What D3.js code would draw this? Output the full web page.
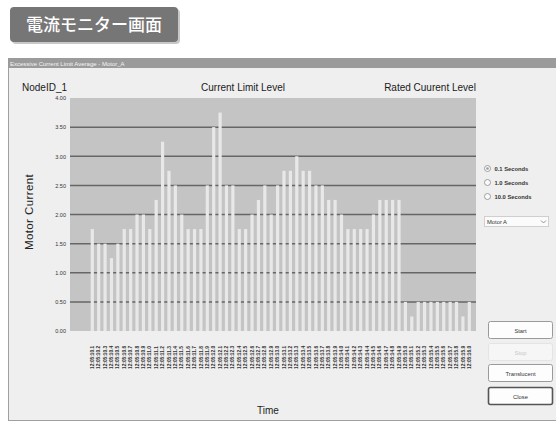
<!DOCTYPE html>
<html>
<head>
<meta charset="utf-8">
<script src="https://cdn.jsdelivr.net/npm/d3@7"></script>
<style>
  html, body { margin: 0; padding: 0; background: #ffffff; }
  svg { display: block; }
  text { font-family: "Liberation Sans", Arial, sans-serif; }
</style>
</head>
<body>
<svg id="chart" width="556" height="426"></svg>
<script>
// ---- data ----
const pageTitle = "電流モニター画面";
const windowTitle = "Excessive Current Limit Average - Motor_A";
const headerLabels = ["NodeID_1", "Current Limit Level", "Rated Cuurent Level"];
const yLabel = "Motor Current";
const xLabel = "Time";
const yTicks = [0, 0.5, 1.0, 1.5, 2.0, 2.5, 3.0, 3.5, 4.0];
const gridValues = [0.5, 1.0, 1.5, 2.0, 2.5, 3.0, 3.5];
const currentValues = [
  1.75, 1.5, 1.5, 1.25, 1.5, 1.75, 1.75, 2.0, 2.0, 1.75,
  2.25, 3.25, 2.75, 2.5, 2.0, 1.75, 1.75, 1.75, 2.5, 3.5,
  3.75, 2.5, 2.5, 1.75, 1.75, 2.0, 2.25, 2.5, 2.0, 2.5,
  2.75, 2.75, 3.0, 2.75, 2.75, 2.5, 2.5, 2.25, 2.25, 2.0,
  1.75, 1.75, 1.75, 1.75, 2.0, 2.25, 2.25, 2.25, 2.25, 0.5,
  0.25, 0.5, 0.5, 0.5, 0.5, 0.5, 0.5, 0.5, 0.25, 0.5
];
const timeLabels = [
  "12:05:10.1","12:05:10.2","12:05:10.3","12:05:10.4","12:05:10.5","12:05:10.6","12:05:10.7","12:05:10.8","12:05:10.9","12:05:11.0",
  "12:05:11.1","12:05:11.2","12:05:11.3","12:05:11.4","12:05:11.5","12:05:11.6","12:05:11.7","12:05:11.8","12:05:11.9","12:05:12.0",
  "12:05:12.1","12:05:12.2","12:05:12.3","12:05:12.4","12:05:12.5","12:05:12.6","12:05:12.7","12:05:12.8","12:05:12.9","12:05:13.0",
  "12:05:13.1","12:05:13.2","12:05:13.3","12:05:13.4","12:05:13.5","12:05:13.6","12:05:13.7","12:05:13.8","12:05:13.9","12:05:14.0",
  "12:05:14.1","12:05:14.2","12:05:14.3","12:05:14.4","12:05:14.5","12:05:14.6","12:05:14.7","12:05:14.8","12:05:14.9","12:05:15.0",
  "12:05:15.1","12:05:15.2","12:05:15.3","12:05:15.4","12:05:15.5","12:05:15.6","12:05:15.7","12:05:15.8","12:05:15.9","12:05:16.0"
];
const intervalOptions = ["0.1 Seconds", "1.0 Seconds", "10.0 Seconds"];
const motorOption = "Motor A";
const buttonLabels = ["Start", "Stop", "Translucent", "Close"];

// ---- drawing ----
const svg = d3.select("#chart");

// page title badge
svg.append("rect").attr("x", 12).attr("y", 9).attr("width", 168).attr("height", 35)
  .attr("rx", 4).attr("fill", "#c8c8c8");
svg.append("rect").attr("x", 10).attr("y", 7).attr("width", 168).attr("height", 35)
  .attr("rx", 4).attr("fill", "#767676");
svg.append("text").attr("x", 94).attr("y", 31).attr("text-anchor", "middle")
  .style("font-family", "'Noto Sans CJK JP', sans-serif").style("font-size", "17px")
  .style("font-weight", "500").attr("fill", "#ffffff").text(pageTitle);

// window
svg.append("rect").attr("x", 8.5).attr("y", 58.5).attr("width", 560).attr("height", 362)
  .attr("fill", "#efefef").attr("stroke", "#a0a0a0");
svg.append("rect").attr("x", 8).attr("y", 58).attr("width", 548).attr("height", 10)
  .attr("fill", "#9b9b9b");
svg.append("text").attr("x", 10).attr("y", 65.8).style("font-size", "6px")
  .attr("fill", "#f4f4f4").text(windowTitle);

// header labels
const headX = [22, 243, 430];
const headAnchor = ["start", "middle", "middle"];
svg.selectAll("text.head").data(headerLabels).join("text")
  .attr("class", "head")
  .attr("x", (d, i) => headX[i]).attr("y", 91)
  .attr("text-anchor", (d, i) => headAnchor[i])
  .style("font-size", "10px").attr("fill", "#1a1a1a").text(d => d);

// plot
const plotLeft = 70, plotRight = 476, plotTop = 98, plotBottom = 331;
const y = d3.scaleLinear().domain([0, 4]).range([plotBottom, plotTop]);
const x = d3.scaleBand().domain(d3.range(currentValues.length))
  .range([89.1, 472.5]).paddingInner(0.5).paddingOuter(0.25);

svg.append("rect").attr("x", plotLeft).attr("y", plotTop)
  .attr("width", plotRight - plotLeft).attr("height", plotBottom - plotTop)
  .attr("fill", "#c4c4c4");

svg.selectAll("line.grid").data(gridValues).join("line")
  .attr("class", "grid")
  .attr("x1", plotLeft).attr("x2", plotRight)
  .attr("y1", d => y(d)).attr("y2", d => y(d))
  .attr("stroke", "#666").attr("stroke-width", 1.5);

svg.selectAll("rect.bar").data(currentValues).join("rect")
  .attr("class", "bar")
  .attr("x", (d, i) => x(i)).attr("width", x.bandwidth())
  .attr("y", d => y(d)).attr("height", d => y(0) - y(d))
  .attr("fill", "#e8e8e8");

// y axis
const yAxis = d3.axisLeft(y).tickValues(yTicks).tickSize(0).tickPadding(4)
  .tickFormat(d3.format(".2f"));
const gy = svg.append("g").attr("transform", `translate(${plotLeft},0)`).call(yAxis);
gy.select(".domain").remove();
gy.selectAll("text").style("font-size", "5.5px").attr("fill", "#333")
  .style("font-family", "'Liberation Sans', Arial, sans-serif");

// x tick labels (rotated)
const gx = svg.append("g");
gx.selectAll("text").data(timeLabels).join("text")
  .attr("transform", (d, i) => `translate(${x(i) + x.bandwidth() / 2 + 1.6},369) rotate(-90)`)
  .attr("text-anchor", "start")
  .style("font-size", "4.8px").style("font-weight", "bold").attr("fill", "#333")
  .text(d => d);

// axis titles
svg.append("text").attr("transform", "translate(33,212) rotate(-90)")
  .attr("text-anchor", "middle").style("font-size", "11.5px").attr("fill", "#222")
  .style("letter-spacing", "0.4px").text(yLabel);
svg.append("text").attr("x", 268).attr("y", 414).attr("text-anchor", "middle")
  .style("font-size", "10px").attr("fill", "#222").text(xLabel);

// radio options
const radioY = [168.5, 182.5, 196.5];
intervalOptions.forEach((t, i) => {
  svg.append("circle").attr("cx", 487.5).attr("cy", radioY[i]).attr("r", 3)
    .attr("fill", "#fafafa").attr("stroke", "#8a8a8a").attr("stroke-width", 0.8);
  if (i === 0) svg.append("circle").attr("cx", 487.5).attr("cy", radioY[i]).attr("r", 1.3)
    .attr("fill", "#9a9a9a");
  svg.append("text").attr("x", 494.5).attr("y", radioY[i] + 2)
    .style("font-size", "5.8px").style("font-weight", "bold").attr("fill", "#333").text(t);
});

// dropdown
svg.append("rect").attr("x", 484.5).attr("y", 216.5).attr("width", 64).attr("height", 10)
  .attr("fill", "#fbfbfb").attr("stroke", "#cfcfcf");
svg.append("text").attr("x", 487).attr("y", 223.8).style("font-size", "5.8px")
  .attr("fill", "#333").text(motorOption);
svg.append("path").attr("d", "M541,220.5 L543.5,223 L546,220.5")
  .attr("fill", "none").attr("stroke", "#888").attr("stroke-width", 0.9);

// buttons
const btnY = [321.5, 343.5, 364.5, 387.5];
buttonLabels.forEach((t, i) => {
  const disabled = i === 1, primary = i === 3;
  svg.append("rect").attr("x", 488.5).attr("y", btnY[i]).attr("width", 64).attr("height", 17)
    .attr("rx", 2)
    .attr("fill", disabled ? "#f6f6f6" : "#fdfdfd")
    .attr("stroke", disabled ? "#e4e4e4" : (primary ? "#555" : "#9a9a9a"))
    .attr("stroke-width", primary ? 1.6 : 1);
  svg.append("text").attr("x", 520.5).attr("y", btnY[i] + 11)
    .attr("text-anchor", "middle").style("font-size", "5.8px")
    .attr("fill", disabled ? "#c8c8c8" : "#333").text(t);
});
</script>
</body>
</html>
